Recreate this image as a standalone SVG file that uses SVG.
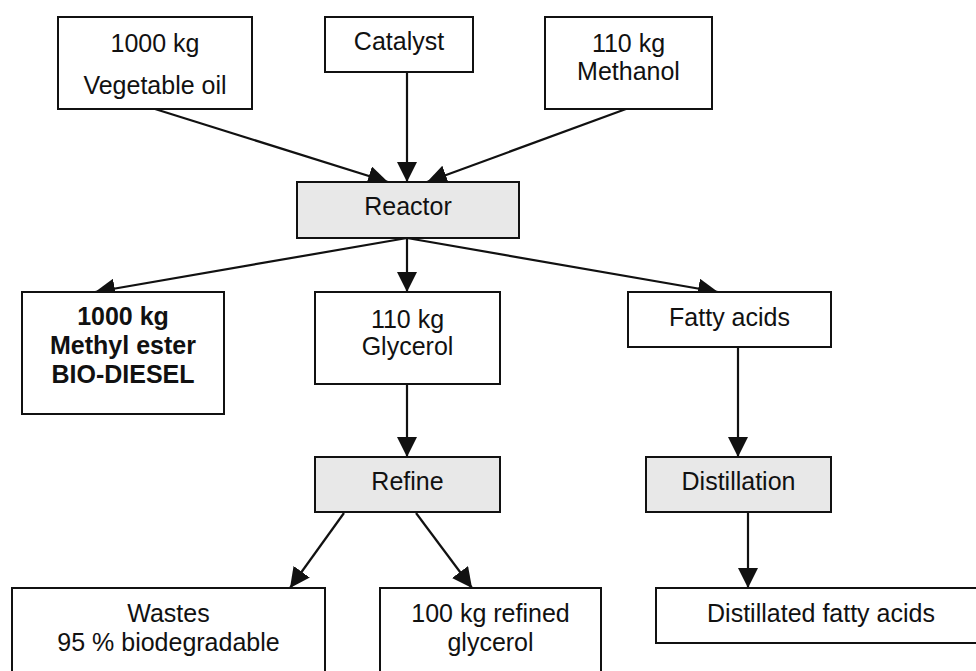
<svg xmlns="http://www.w3.org/2000/svg" width="976" height="671" viewBox="0 0 976 671">
<style>
.box{fill:#ffffff;stroke:#111;stroke-width:2}
.proc{fill:#e8e8e8;stroke:#111;stroke-width:2}
.t{font-family:"Liberation Sans",Arial,sans-serif;font-size:25px;fill:#111;text-anchor:middle}
.b{font-weight:bold}
.c{stroke:#111;stroke-width:2.2;fill:none;marker-end:url(#ah)}
</style>
<defs>
<marker id="ah" viewBox="0 0 10 10" refX="10" refY="5" markerUnits="userSpaceOnUse" markerWidth="20" markerHeight="20" orient="auto">
<path d="M0,0 L10,5 L0,10 z" fill="#111"/>
</marker>
</defs>
<rect width="976" height="671" fill="#fff"/>
<g id="connectors">
<line class="c" x1="155" y1="109" x2="388" y2="182"/>
<line class="c" x1="407" y1="72" x2="407" y2="182"/>
<line class="c" x1="626" y1="109" x2="427" y2="182"/>
<line class="c" x1="407" y1="238" x2="95" y2="292"/>
<line class="c" x1="407" y1="238" x2="407" y2="292"/>
<line class="c" x1="407" y1="238" x2="718" y2="292"/>
<line class="c" x1="407" y1="384" x2="407" y2="457"/>
<line class="c" x1="738" y1="347" x2="738" y2="457"/>
<line class="c" x1="748" y1="512" x2="748" y2="588"/>
<line class="c" x1="344" y1="513" x2="290" y2="588"/>
<line class="c" x1="416" y1="513" x2="472" y2="588"/>
</g>
<g id="vegoil">
<rect class="box" x="58" y="17" width="194" height="92"/>
<text class="t" x="155" y="52">1000 kg</text>
<text class="t" x="155" y="94">Vegetable oil</text>
</g>
<g id="catalyst">
<rect class="box" x="325" y="17" width="148" height="55"/>
<text class="t" x="399" y="50">Catalyst</text>
</g>
<g id="methanol">
<rect class="box" x="545" y="17" width="167" height="92"/>
<text class="t" x="628.5" y="52">110 kg</text>
<text class="t" x="628.5" y="80">Methanol</text>
</g>
<g id="reactor">
<rect class="proc" x="297" y="182" width="222" height="56"/>
<text class="t" x="408" y="215">Reactor</text>
</g>
<g id="biodiesel">
<rect class="box" x="22" y="292" width="202" height="122"/>
<text class="t b" x="123" y="325">1000 kg</text>
<text class="t b" x="123" y="354">Methyl ester</text>
<text class="t b" x="123" y="383">BIO-DIESEL</text>
</g>
<g id="glycerol">
<rect class="box" x="315" y="292" width="185" height="92"/>
<text class="t" x="407.5" y="328">110 kg</text>
<text class="t" x="407.5" y="355">Glycerol</text>
</g>
<g id="fattyacids">
<rect class="box" x="628" y="292" width="203" height="55"/>
<text class="t" x="729.5" y="326">Fatty acids</text>
</g>
<g id="refine">
<rect class="proc" x="315" y="457" width="185" height="55"/>
<text class="t" x="407.5" y="490">Refine</text>
</g>
<g id="distillation">
<rect class="proc" x="646" y="457" width="185" height="55"/>
<text class="t" x="738.5" y="490">Distillation</text>
</g>
<g id="wastes">
<rect class="box" x="12" y="588" width="313" height="100"/>
<text class="t" x="168.5" y="622">Wastes</text>
<text class="t" x="168.5" y="651">95 % biodegradable</text>
</g>
<g id="refinedglycerol">
<rect class="box" x="380" y="588" width="221" height="100"/>
<text class="t" x="490.5" y="622">100 kg refined</text>
<text class="t" x="490.5" y="651">glycerol</text>
</g>
<g id="distillated">
<rect class="box" x="656" y="588" width="330" height="55"/>
<text class="t" x="821" y="622">Distillated fatty acids</text>
</g>
</svg>
